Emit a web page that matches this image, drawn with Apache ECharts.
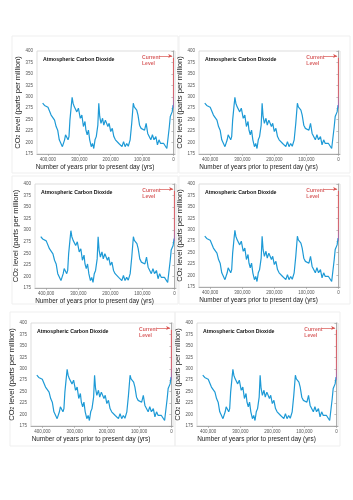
<!DOCTYPE html>
<html>
<head>
<meta charset="utf-8">
<script src="https://cdn.jsdelivr.net/npm/echarts@6/dist/echarts.min.js"></script>
<style>
html, body { margin: 0; padding: 0; background: #fff; }
#chart { width: 353px; height: 500px; }
</style>
</head>
<body>
<div id="chart"></div>
<script>
// years before present and CO2 (ppm)
const years = [417000, 411000, 405000, 400000, 395000, 390000, 385000, 379000, 374000, 369000,
  364000, 359000, 354000, 351000, 347000, 344000, 341000, 336000, 333000, 330000,
  326000, 323000, 320000, 316000, 313000, 308000, 303000, 297000, 292000, 287000,
  282000, 279000, 275000, 271000, 267000, 262000, 258000, 254000, 250000, 246000,
  241000, 238000, 235000, 231000, 226000, 222000, 217000, 213000, 209000, 205000,
  200000, 195000, 190000, 185000, 179000, 174000, 169000, 164000, 159000, 154000,
  149000, 144000, 138000, 133000, 128000, 125000, 121000, 117000, 113000, 108000,
  103000, 97000, 92000, 87000, 82000, 77000, 72000, 67000, 62000, 56000,
  51000, 46000, 41000, 36000, 31000, 26000, 21000, 16000, 13000, 10000,
  7000, 4000, 1000];
const co2 = [286, 281, 278, 277, 276, 260, 264, 249, 235, 227,
  206, 202, 191, 187, 206, 217, 220, 206, 213, 249,
  278, 299, 286, 278, 282, 267, 275, 253, 260, 235,
  246, 227, 217, 227, 206, 191, 198, 187, 206, 213,
  238, 286, 257, 242, 253, 238, 249, 253, 235, 242,
  224, 231, 213, 206, 209, 198, 202, 191, 202, 191,
  198, 192, 206, 242, 286, 278, 282, 271, 260, 238,
  231, 235, 227, 242, 220, 224, 206, 217, 206, 213,
  195, 206, 198, 202, 198, 195, 187, 184, 235, 257,
  253, 267, 282];
const currentLevel = [276, 385];       // red bar at year 0
const xTicks = [400000, 300000, 200000, 100000, 0];

// plot boxes of the six copies (2 x 3 sheet)
const panels = [
  { left: 37, top: 51, width: 138, height: 103 },
  { left: 199, top: 51, width: 141, height: 103 },
  { left: 35, top: 184, width: 141, height: 104 },
  { left: 199, top: 184, width: 141, height: 103 },
  { left: 31, top: 323, width: 142, height: 103 },
  { left: 197, top: 323, width: 141, height: 103 }
];
// faint card outlines behind each copy
const cards = [
  [12, 36, 166, 137], [179, 36, 171, 137],
  [12, 176, 166, 128], [179, 176, 171, 128],
  [10, 312, 165, 134], [175, 312, 165, 134]
];

const chart = echarts.init(document.getElementById('chart'));
const lineData = years.map((y, i) => [y, co2[i]]);
const font = 'Liberation Sans, Arial, sans-serif';

const grid = [], xAxis = [], yAxis = [], series = [], title = [];
panels.forEach((p, i) => {
  grid.push({ left: p.left, top: p.top, width: p.width, height: p.height,
    show: true, borderColor: '#d4d4d4', borderWidth: 0.8, backgroundColor: '#fff' });
  xAxis.push({
    gridIndex: i, type: 'value', inverse: true, min: -5000, max: 435000,
    name: 'Number of years prior to present day (yrs)', nameLocation: 'middle', nameGap: 10,
    nameTextStyle: { fontSize: 6.4, color: '#222', fontFamily: font, padding: [0, 22, 0, 0] },
    axisLine: { lineStyle: { color: '#999', width: 0.8 } },
    axisTick: { customValues: xTicks, length: 2, lineStyle: { color: '#999', width: 0.6 } },
    axisLabel: { customValues: xTicks, fontSize: 4.5, color: '#555', margin: 3, fontFamily: font,
      formatter: v => v.toLocaleString('en-US') },
    splitLine: { show: false }
  });
  yAxis.push({
    gridIndex: i, type: 'value', min: 175, max: 400, interval: 25,
    name: 'CO{sub|2} level (parts per million)', nameLocation: 'middle', nameGap: 14,
    nameTextStyle: { fontSize: 7.6, color: '#222', fontFamily: font,
      rich: { sub: { fontSize: 5, color: '#222', fontFamily: font, verticalAlign: 'bottom', padding: [3, 0, 0, 0] } } },
    axisLine: { show: true, lineStyle: { color: '#999', width: 0.8 } },
    axisTick: { show: true, length: 2, lineStyle: { color: '#999', width: 0.6 } },
    axisLabel: { fontSize: 4.5, color: '#555', margin: 4, fontFamily: font },
    splitLine: { show: false }
  });
  title.push({ text: 'Atmospheric Carbon Dioxide', left: p.left + 1, top: p.top + 1,
    textStyle: { fontSize: 5.2, fontWeight: 'bold', color: '#111', fontFamily: font } });
  series.push({
    type: 'line', xAxisIndex: i, yAxisIndex: i, data: lineData, symbol: 'none',
    lineStyle: { color: '#1e9ad6', width: 1.2 }, animation: false, silent: true
  });
  series.push({
    type: 'line', xAxisIndex: i, yAxisIndex: i, symbol: 'none', animation: false, silent: true,
    data: currentLevel.map(v => [0, v]),
    lineStyle: { width: 1, color: new echarts.graphic.LinearGradient(0, 0, 0, 1, [
      { offset: 0, color: '#e0585a' }, { offset: 0.7, color: '#d8606e' }, { offset: 1, color: '#8d6bc6' }]) },
    markLine: {
      silent: true, symbol: ['none', 'arrow'], symbolSize: [3, 4], animation: false,
      lineStyle: { color: '#d9534f', width: 0.7, type: 'solid' }, label: { show: false },
      data: [[{ coord: [45000, 389] }, { coord: [4000, 389] }]]
    }
  });
  series.push({
    type: 'scatter', xAxisIndex: i, yAxisIndex: i, symbolSize: 0, animation: false, silent: true,
    data: [[100000, 393]],
    label: { show: true, position: [0, 0], align: 'left', verticalAlign: 'top',
      formatter: 'Current\nLevel', fontSize: 5, lineHeight: 6, fontWeight: 'bold',
      color: '#d0393b', fontFamily: font }
  });
});

chart.setOption({
  animation: false,
  backgroundColor: '#fff',
  graphic: cards.map(c => ({
    type: 'rect', z: -10, silent: true,
    shape: { x: c[0], y: c[1], width: c[2], height: c[3] },
    style: { fill: 'none', stroke: '#efefef', lineWidth: 1 }
  })),
  title, grid, xAxis, yAxis, series
});
</script>
</body>
</html>
